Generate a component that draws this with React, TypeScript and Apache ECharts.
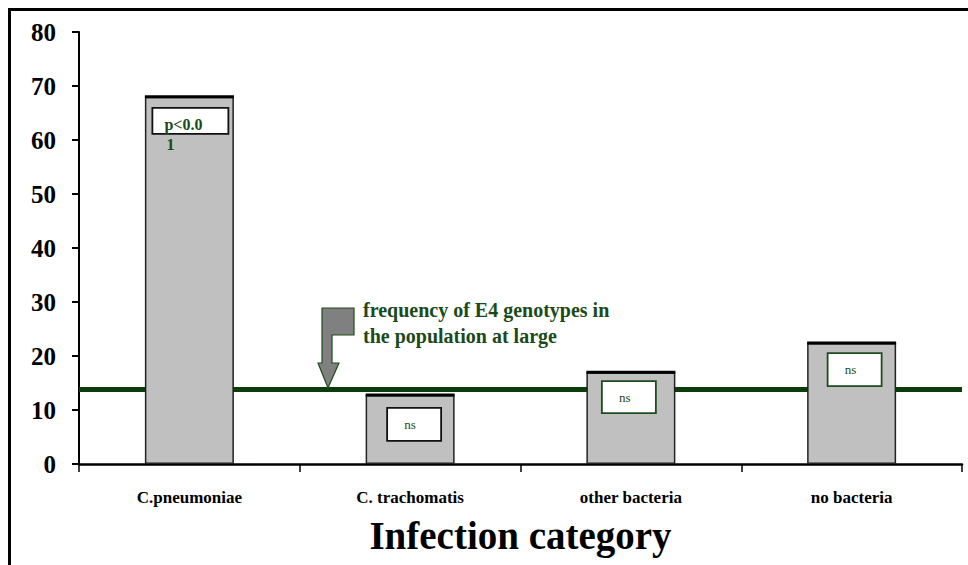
import React, { useEffect, useRef } from "react";
import * as echarts from "echarts";

const categories = ["C.pneumoniae", "C. trachomatis", "other bacteria", "no bacteria"];
const e4Percent = [68, 12.8, 17, 22.4];
const boxTexts = ["p<0.0\n1", "ns", "ns", "ns"];
const populationFrequency = 13.9;
const yTicks = { min: 0, max: 80, interval: 10 };
const annotationLines = ["frequency of E4 genotypes in", "the population at large"];

const GREEN = "#0b3d0b";
const TEXT_GREEN = "#1a4a1a";
const FONT = "'Liberation Serif', 'Times New Roman', serif";

// per-box drawing style (not data)
const boxStyles = [
  { w: 76, h: 26, dy: 11, dx: 1, border: "#111", textAlign: "left", fontSize: 16 },
  { w: 54, h: 33, dy: 13, dx: 4, border: "#111", textAlign: "center", fontSize: 13 },
  { w: 54, h: 32, dy: 9, dx: -2, border: "#1d4d1d", textAlign: "center", fontSize: 13 },
  { w: 54, h: 33, dy: 10, dx: 3, border: "#1d4d1d", textAlign: "center", fontSize: 13 },
];

export default function App() {
  const ref = useRef<HTMLDivElement>(null);
  useEffect(() => {
    document.body.style.margin = "0";
    const chart = echarts.init(ref.current!, null, { renderer: "svg" });
    const option: any = {
      animation: false,
      backgroundColor: "#fff",
      grid: { left: 79, right: 6, top: 32, bottom: 101, containLabel: false },
      xAxis: {
        type: "category",
        data: categories,
        boundaryGap: true,
        axisLine: { lineStyle: { color: "#000", width: 2.5 } },
        axisTick: { show: true, length: 8, lineStyle: { color: "#000", width: 1.5 } },
        axisLabel: {
          margin: 25,
          fontFamily: FONT,
          fontWeight: "bold",
          fontSize: 17,
          color: "#000",
        },
        name: "Infection category",
        nameLocation: "middle",
        nameGap: 52,
        nameTextStyle: {
          fontFamily: FONT,
          fontWeight: "bold",
          fontSize: 39,
          color: "#000",
          verticalAlign: "top",
        },
      },
      yAxis: {
        type: "value",
        min: yTicks.min,
        max: yTicks.max,
        interval: yTicks.interval,
        splitLine: { show: false },
        axisLine: { show: true, lineStyle: { color: "#000", width: 2 } },
        axisTick: { show: true, length: 7, lineStyle: { color: "#000", width: 2 } },
        axisLabel: {
          margin: 23,
          fontFamily: FONT,
          fontWeight: "bold",
          fontSize: 25,
          color: "#000",
        },
      },
      series: [
        {
          type: "line",
          data: [],
          z: 1,
          markLine: {
            z: 1,
            symbol: "none",
            silent: true,
            label: { show: false },
            lineStyle: { color: GREEN, width: 5, type: "solid" },
            data: [{ yAxis: populationFrequency }],
          },
        },
        {
          type: "bar",
          data: e4Percent,
          barWidth: 89,
          z: 2,
          itemStyle: { color: "#c0c0c0", borderColor: "#222", borderWidth: 1.5 },
        },
        {
          type: "scatter",
          data: e4Percent,
          symbol: "rect",
          symbolSize: [89, 3],
          z: 3,
          itemStyle: { color: "#000", opacity: 1 },
          silent: true,
        },
        {
          type: "custom",
          z: 4,
          data: e4Percent.map((v, i) => [i, v]),
          renderItem: (params: any, api: any) => {
            const i = params.dataIndex;
            const s = boxStyles[i];
            const p = api.coord([api.value(0), api.value(1)]);
            const x = p[0] + s.dx - s.w / 2;
            const y = p[1] + s.dy;
            const lines = boxTexts[i].split("\n");
            const children: any[] = [
              {
                type: "rect",
                shape: { x, y, width: s.w, height: s.h },
                style: { fill: "#fff", stroke: s.border, lineWidth: 1.8 },
              },
            ];
            if (s.textAlign === "left") {
              children.push({
                type: "text",
                style: {
                  x: x + 12,
                  y: y + 17,
                  text: lines[0],
                  fill: TEXT_GREEN,
                  font: `bold ${s.fontSize}px ${FONT}`,
                  align: "left",
                  verticalAlign: "middle",
                },
              });
              children.push({
                type: "text",
                style: {
                  x: x + 14,
                  y: y + 37,
                  text: lines[1],
                  fill: TEXT_GREEN,
                  font: `bold ${s.fontSize}px ${FONT}`,
                  align: "left",
                  verticalAlign: "middle",
                },
              });
            } else {
              children.push({
                type: "text",
                style: {
                  x: x + s.w / 2 - 4,
                  y: y + s.h / 2,
                  text: lines[0],
                  fill: TEXT_GREEN,
                  font: `${s.fontSize}px ${FONT}`,
                  align: "center",
                  verticalAlign: "middle",
                },
              });
            }
            return { type: "group", children };
          },
        },
      ],
      graphic: [
        {
          type: "line",
          shape: { x1: 8, y1: 9.5, x2: 968, y2: 9.5 },
          style: { stroke: "#000", lineWidth: 3 },
        },
        {
          type: "line",
          shape: { x1: 9.5, y1: 8, x2: 9.5, y2: 565 },
          style: { stroke: "#000", lineWidth: 3 },
        },
        {
          type: "polygon",
          z: 10,
          shape: {
            points: [
              [322, 308],
              [354, 308],
              [354, 335],
              [332, 335],
              [332, 363],
              [339, 363],
              [328, 388],
              [318, 363],
              [322, 363],
            ],
          },
          style: { fill: "#808080", stroke: "#1d4d1d", lineWidth: 1.2 },
        },
        {
          type: "text",
          left: 363,
          top: 297,
          z: 10,
          style: {
            text: annotationLines.join("\n"),
            fill: TEXT_GREEN,
            font: `bold 20px ${FONT}`,
            lineHeight: 26,
          },
        },
      ],
    };
    chart.setOption(option);
    return () => chart.dispose();
  }, []);
  return <div ref={ref} style={{ width: 968, height: 565 }} />;
}
